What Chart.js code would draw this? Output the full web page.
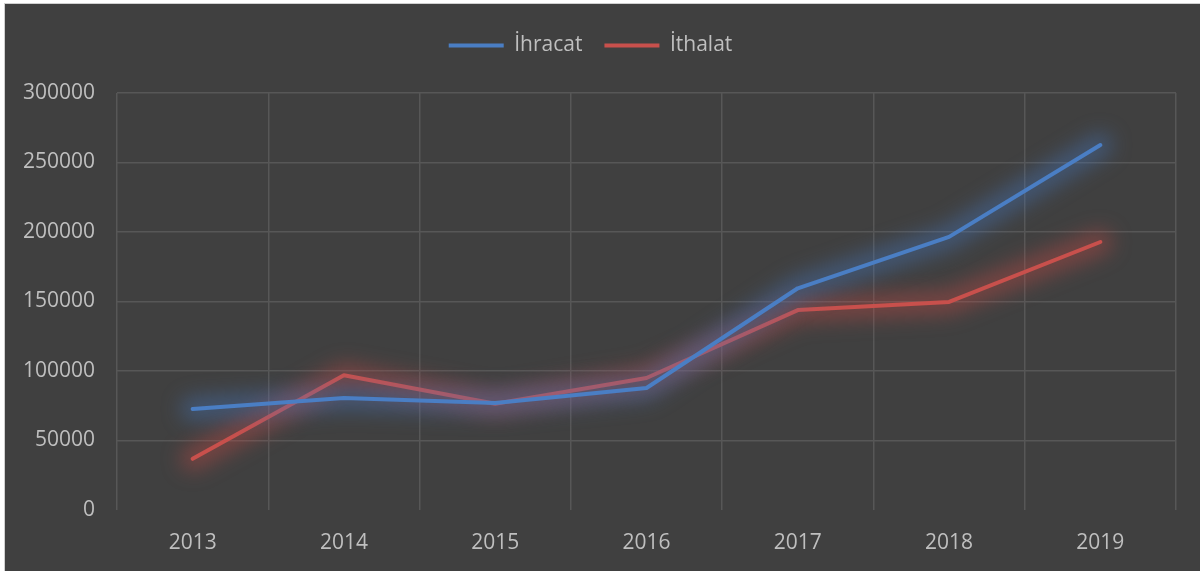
<!DOCTYPE html>
<html lang="tr">
<head>
    <meta charset="UTF-8">
    <title>İhracat / İthalat</title>
    <script src="https://cdn.jsdelivr.net/npm/chart.js"></script>
    <style>
        html, body {
            margin: 0;
            padding: 0;
            background: #ffffff;
        }
        .chart-box {
            position: absolute;
            left: 4px;
            top: 3px;
            width: 1196px;
            height: 568px;
            background: #404040;
            border-top: 1px solid #d0d0d0;
            border-left: 1px solid #d0d0d0;
        }
    </style>
</head>
<body>

<div class="chart-box">
    <canvas id="tradeChart" width="1195" height="567"></canvas>
</div>

<script>
    const years = ['2013', '2014', '2015', '2016', '2017', '2018', '2019'];
    const ihracat = [72700, 80500, 77000, 87800, 159500, 196500, 262600];
    const ithalat = [36800, 97000, 76500, 95000, 143800, 149700, 192800];

    const yMin = 0;
    const yMax = 300000;
    const yStep = 50000;

    const textColor = '#bfbfbf';
    const gridColor = '#575757';
    const labelFont = { family: 'Open Sans', size: 21 };

    // soft glow under each line, like the Excel effect:
    // a wide blurred stroke through the points the library placed
    const glowPlugin = {
        id: 'glow',
        beforeDatasetDraw(chart, args) {
            const ctx = chart.ctx;
            const ds = chart.data.datasets[args.index];
            const pts = args.meta.data;
            if (!pts.length) return;
            ctx.save();
            ctx.filter = 'blur(10px)';
            ctx.strokeStyle = ds.glowColor;
            ctx.lineWidth = 24;
            ctx.lineCap = 'round';
            ctx.lineJoin = 'round';
            ctx.beginPath();
            pts.forEach((p, i) => {
                if (i === 0) ctx.moveTo(p.x, p.y);
                else ctx.lineTo(p.x, p.y);
            });
            ctx.stroke();
            ctx.restore();
        }
    };

    // leave the gap between legend and plot that the original has
    const legendGap = {
        id: 'legendGap',
        beforeInit(chart) {
            const fit = chart.legend.fit;
            chart.legend.fit = function () {
                fit.call(this);
                this.height = 80;
            };
        }
    };

    const ctx = document.getElementById('tradeChart').getContext('2d');
    new Chart(ctx, {
        type: 'line',
        data: {
            labels: years,
            datasets: [{
                label: 'İhracat',
                data: ihracat,
                borderColor: '#4a7ec4',
                backgroundColor: '#4a7ec4',
                glowColor: 'rgba(70, 120, 190, 0.42)',
                borderWidth: 4,
                pointRadius: 0,
                tension: 0,
                borderCapStyle: 'round',
                borderJoinStyle: 'round'
            }, {
                label: 'İthalat',
                data: ithalat,
                borderColor: '#c8504c',
                backgroundColor: '#c8504c',
                glowColor: 'rgba(200, 75, 70, 0.42)',
                borderWidth: 4,
                pointRadius: 0,
                tension: 0,
                borderCapStyle: 'round',
                borderJoinStyle: 'round'
            }]
        },
        options: {
            responsive: false,
            animation: false,
            layout: {
                padding: { left: 0, right: 24, top: 9, bottom: 0 }
            },
            plugins: {
                legend: {
                    position: 'top',
                    labels: {
                        color: textColor,
                        font: labelFont,
                        boxWidth: 55,
                        boxHeight: 4,
                        padding: 22,
                        generateLabels(chart) {
                            return chart.data.datasets.map((ds, i) => ({
                                text: ds.label,
                                fillStyle: ds.borderColor,
                                strokeStyle: ds.borderColor,
                                lineWidth: 0,
                                fontColor: textColor,
                                datasetIndex: i
                            }));
                        }
                    }
                },
                tooltip: { enabled: false }
            },
            scales: {
                x: {
                    offset: true,
                    afterFit: (scale) => { scale.height = 61; },
                    grid: {
                        offset: true,
                        color: gridColor,
                        lineWidth: 1.5,
                        drawTicks: false
                    },
                    border: { display: false },
                    ticks: {
                        color: textColor,
                        font: labelFont,
                        padding: 20
                    }
                },
                y: {
                    min: yMin,
                    max: yMax,
                    afterFit: (scale) => { scale.width = 112; },
                    grid: {
                        color: (c) => (c.tick && c.tick.value === 0 ? 'rgba(0,0,0,0)' : gridColor),
                        lineWidth: 1.5,
                        drawTicks: false
                    },
                    border: { display: false },
                    ticks: {
                        stepSize: yStep,
                        color: textColor,
                        font: labelFont,
                        padding: 22,
                        callback: (v) => String(v)
                    }
                }
            }
        },
        plugins: [glowPlugin, legendGap]
    });
</script>
</body>
</html>
